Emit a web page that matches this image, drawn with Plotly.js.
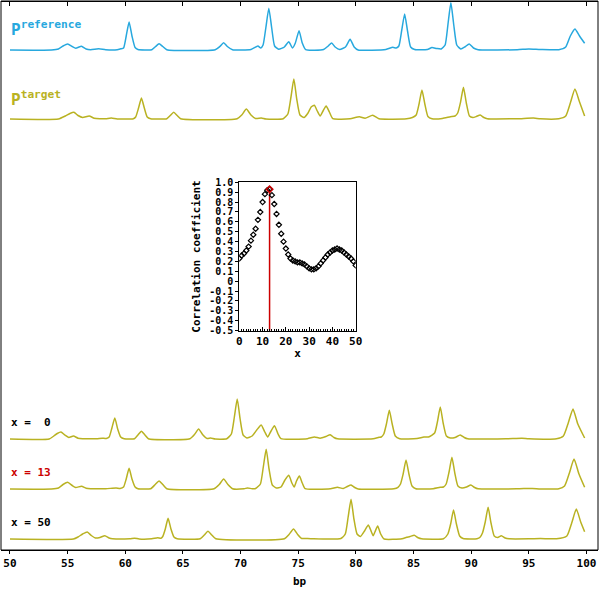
<!DOCTYPE html>
<html>
<head>
<meta charset="utf-8">
<script src="https://cdn.plot.ly/plotly-3.0.1.min.js"></script>
<style>
  body { margin: 0; background: #fff; }
  #plot { width: 600px; height: 600px; }
</style>
</head>
<body>
<div id="plot"></div>
<script>
// bp axis ticks
const bpTicks = [50, 55, 60, 65, 70, 75, 80, 85, 90, 95, 100];

// profiles as [bp, signal] points
const refProfile = [
  [50,0],[53.6,0],[54.2,1],[54.6,4],[55.0,6],[55.4,3.5],[55.7,1.8],[56.2,3.7],[56.6,1],[57.0,0.3],[57.7,1.2],[58.3,0.3],[59.3,0.3],[59.6,1.2],
  [59.85,2],[60.08,14],[60.33,28],[60.58,14],[60.85,2.5],[61.1,0.5],
  [62.3,0.3],[62.63,3.5],[62.93,6.3],[63.25,3.5],[63.6,0.3],
  [67.8,0.3],[68.2,3.5],[68.53,7.3],[68.85,3.5],[69.3,0.3],
  [70.9,0.5],[71.5,4],[71.75,2],
  [71.95,5],[72.2,23],[72.45,41.7],[72.7,22],[72.95,4],[73.3,0.8],
  [73.8,3],[74.18,8.3],[74.5,2],
  [74.75,7],[75.07,19.3],[75.35,7],[75.65,0.3],
  [77.2,0.5],[77.6,4],[77.9,7],[78.2,3],[78.6,0.5],[79.1,3],[79.5,10.7],[79.85,3],[80.2,0],
  [82.6,0.5],[83.2,2.7],[83.5,2],
  [83.73,4],[83.98,20],[84.23,36],[84.48,19],[84.75,3],[85.1,0.5],
  [86.2,0.5],[86.6,2.5],[87.0,1.5],[87.4,1],
  [87.74,5],[87.99,26],[88.24,47.3],[88.49,25],[88.75,5],[89.1,1],
  [89.45,3],[89.83,6],[90.2,2],[90.6,0.3],
  [94.0,0.3],[95.0,1],[96.0,0.5],[97.6,0.3],[98.2,3],[98.6,14],[99.0,21],[99.4,14],[99.84,6.7]
];

const targetProfile = [
  [50,0],[54.2,0],[54.8,3],[55.2,5.5],[55.54,6.7],[55.9,3.5],[56.3,1.5],[56.87,3],[57.3,0.8],[57.8,0.3],[58.3,0.3],[58.8,1],[59.3,0],
  [60.7,0.3],[60.9,2],[61.15,11],[61.4,21],[61.65,11],[61.9,2],[62.2,0.3],
  [63.6,0.3],[63.9,3.5],[64.2,6.7],[64.5,3.5],[64.8,0.3],
  [69.7,0.3],[70.1,4],[70.5,10],[70.9,4],[71.3,0.5],[71.8,1],[72.2,0],
  [73.7,0.3],[74.1,5],[74.37,22],[74.62,40],[74.87,20],[75.15,4],[75.5,1.5],
  [75.85,6],[76.12,12],[76.4,13.7],[76.65,8],[76.9,3],[77.15,8],[77.42,13],[77.7,7],[78.0,0.3],
  [79.5,0.3],[80.3,2.3],[80.8,0.8],[81.46,3.7],[82.0,0.2],
  [84.4,0.2],[84.9,1.5],
  [85.23,4],[85.48,15],[85.73,29],[85.98,15],[86.25,2.5],[86.6,0.3],
  [87.5,0.5],[88.2,2.3],[88.6,3],
  [88.83,6],[89.08,17],[89.33,31.7],[89.58,16],[89.85,3],[90.15,1.5],[90.45,2.5],[90.78,4],[91.1,1.5],[91.4,0.3],
  [94.0,0.3],[95.4,1],[96.0,0.2],[97.6,0.3],[98.2,3],[98.6,16],[99.0,30],[99.4,17],[99.84,3]
];

const shift0Profile = [
  [50,0],[53.4,0],[53.8,3],[54.1,5.5],[54.42,7],[54.75,4],[55.1,1.5],[55.5,3],[55.9,0.8],[56.3,0.3],[57.5,0.3],[58.0,0.8],[58.35,0.5],
  [58.6,2],[58.84,11],[59.09,21],[59.34,10],[59.6,2],[59.9,0.3],
  [60.8,0.3],[61.1,4],[61.4,7.7],[61.7,4],[62.0,0.3],
  [65.6,0.3],[66.0,4.5],[66.36,10],[66.7,4.5],[67.1,0.5],[67.4,1],[67.8,0],
  [68.8,0.3],[69.2,5],[69.46,22],[69.71,40],[69.96,20],[70.22,4],[70.55,1],
  [71.0,3],[71.4,9],[71.79,14],[72.1,7],[72.35,2],[72.6,7],[72.94,13.3],[73.25,5],[73.5,0.3],
  [75.8,0.3],[76.4,2],[76.9,0.8],[77.4,2.5],[77.77,4.3],[78.1,1.5],[78.4,0.2],
  [81.5,0.2],[82.0,1.7],[82.2,2],
  [82.42,5],[82.65,15],[82.9,28.7],[83.15,15],[83.42,3],[83.8,0.3],
  [85.3,0.5],[85.9,2],[86.3,2],
  [86.83,6],[87.07,17],[87.32,32],[87.57,16],[87.85,3],[88.2,1],[88.6,1.5],[89.05,4],[89.4,1.5],[89.7,0.2],
  [93.0,0.2],[94.4,0.8],[95.0,0.2],[97.4,0.2],[98.0,3],[98.42,16],[98.83,30],[99.25,15],[99.84,1]
];

const shift13Profile = [
  [50,0],[53.6,0],[54.2,1],[54.6,4.5],[55.0,6.7],[55.4,3.5],[55.7,1.5],[56.2,2.7],[56.6,0.8],[57.0,0.3],[58.3,0.3],[59.2,1],[59.55,0.5],
  [59.85,2],[60.08,10],[60.33,20.7],[60.58,10],[60.85,2],[61.1,0.3],
  [62.2,0.3],[62.6,4.5],[62.93,8],[63.25,4.5],[63.6,0.3],
  [67.7,0.3],[68.15,4.5],[68.53,10],[68.9,4.5],[69.3,0.3],[70.3,0.3],[70.6,1],[71.0,0.3],
  [71.3,0.5],[71.72,5],[71.97,22],[72.22,39.7],[72.47,20],[72.75,4],[73.1,1],
  [73.5,2],[73.85,9],[74.18,13.7],[74.45,6],[74.65,2],[74.85,8],[75.1,13],[75.35,6],[75.6,0.3],
  [77.8,0.3],[78.4,1.7],[78.9,0.5],[79.25,2.5],[79.58,4],[79.9,1.5],[80.2,0],
  [83.3,0.3],[83.65,1.7],
  [83.87,5],[84.1,15],[84.35,29],[84.6,15],[84.87,3],[85.2,0.3],
  [86.7,0.3],[87.3,1.7],[87.6,2],
  [87.83,5],[88.08,17],[88.33,31.7],[88.58,16],[88.85,3],[89.2,1],[89.6,2],[89.97,4],[90.3,1.5],[90.6,0.2],
  [94.0,0.2],[95.3,0.6],[96.0,0.1],[97.6,0.2],[98.1,3],[98.52,16],[98.92,30],[99.35,15],[99.84,1.7]
];

const shift50Profile = [
  [50,0],[55.5,0],[55.9,2],[56.3,5],[56.7,7],[57.05,3.5],[57.4,1],[57.8,1.5],[58.23,3.3],[58.6,1],[58.9,0.3],[60.4,0.3],[60.8,0.8],[61.2,0],[62.3,0.2],[62.8,1.2],[63.1,0.8],
  [63.25,2.5],[63.47,10],[63.71,20.7],[63.96,10],[64.22,2],[64.5,0.3],
  [66.5,0.3],[66.85,4],[67.17,7.7],[67.5,4],[67.85,0.3],
  [73.8,0.3],[74.2,4.5],[74.59,10],[74.95,4.5],[75.3,0.5],[75.6,0.5],[76.1,0.3],
  [78.7,0.5],[79.08,5],[79.33,22],[79.58,39.7],[79.83,20],[80.1,5],[80.4,2.5],
  [80.75,8],[81.08,14],[81.35,7],[81.5,3.3],[81.65,7],[81.89,13],[82.15,5],[82.45,0],
  [84.0,0.3],[84.4,1.7],[84.7,2.5],[85.06,3.7],[85.4,1.2],[85.7,0.2],
  [87.6,0.3],[87.98,5],[88.22,15],[88.47,29],[88.72,15],[89.0,3],[89.3,0.5],
  [90.5,0.3],[90.75,1.5],
  [90.98,6],[91.22,17],[91.47,31.7],[91.72,16],[92.0,3],[92.3,1.5],[92.62,3.3],[92.95,1],[93.3,0.2],
  [95.0,0.2],[96.0,0.5],[97.4,0.2],[98.3,3],[98.72,16],[99.12,30],[99.5,17],[99.84,7.3]
];

// correlation vs shift x
const shifts = [0,1,2,3,4,5,6,7,8,9,10,11,12,13,14,15,16,17,18,19,20,21,22,23,24,25,
  26,27,28,29,30,31,32,33,34,35,36,37,38,39,40,41,42,43,44,45,46,47,48,49,50];
const corr = [0.23,0.26,0.28,0.31,0.35,0.41,0.47,0.53,0.62,0.70,0.80,0.88,0.92,0.93,0.87,0.78,
  0.68,0.57,0.48,0.40,0.33,0.27,0.23,0.21,0.20,0.19,0.19,0.18,0.17,0.15,0.13,0.12,0.12,0.13,
  0.15,0.18,0.21,0.24,0.27,0.29,0.31,0.32,0.33,0.32,0.31,0.29,0.27,0.25,0.23,0.20,0.16];
const corrTicks = [1.0,0.9,0.8,0.7,0.6,0.5,0.4,0.3,0.2,0.1,0,-0.1,-0.2,-0.3,-0.4,-0.5];
const corrTickText = ['1.0','0.9','0.8','0.7','0.6','0.5','0.4','0.3','0.2','0.1','0',
  '-0.1','-0.2','-0.3','-0.4','-0.5'];
const shiftTicks = [0, 10, 20, 30, 40, 50];

const shownShifts = [0, 13, 50];

const blue = '#27a8de';
const olive = '#b9b222';
const red = '#cc0000';
const mono = 'DejaVu Sans Mono';

// pixel rows of each profile's baseline (plot area runs y=1..550)
const baselines = [50, 119, 439, 489, 539];
function band(yb) {
  const lo = (550 - yb - 2) / 549;
  return [lo, lo + 50 / 549];
}

const best = corr.indexOf(Math.max(...corr));

const line = (pts, xa, ya, color) => ({
  x: pts.map(p => p[0]), y: pts.map(p => p[1]),
  xaxis: xa, yaxis: ya, mode: 'lines', hoverinfo: 'skip',
  line: {color: color, width: 1.5, shape: 'spline', smoothing: 0.5}
});

const data = [
  line(refProfile, 'x2', 'y', blue),
  line(targetProfile, 'x', 'y2', olive),
  line(shift0Profile, 'x', 'y3', olive),
  line(shift13Profile, 'x', 'y4', olive),
  line(shift50Profile, 'x', 'y5', olive),
  {
    x: [shifts[best], shifts[best]], y: [-0.5, corr[best]],
    xaxis: 'x3', yaxis: 'y6', mode: 'lines',
    line: {color: red, width: 1.5}
  },
  {
    x: shifts, y: corr, xaxis: 'x3', yaxis: 'y6', mode: 'markers',
    marker: {symbol: 'diamond-open', size: 4, color: '#000', line: {width: 1.2}}
  },
  {
    x: [shifts[best]], y: [corr[best]], xaxis: 'x3', yaxis: 'y6', mode: 'markers',
    marker: {symbol: 'diamond-open', size: 5, color: red, line: {width: 1.5}}
  }
];

const tickFont = {family: mono, size: 11, weight: 'bold', color: '#000'};
const smallFont = {family: mono, size: 10, weight: 'bold', color: '#000'};
const hidden = {visible: false, range: [-2, 48], fixedrange: true};

const layout = {
  width: 600, height: 600,
  margin: {l: 1, r: 2, t: 1, b: 50},
  paper_bgcolor: '#fff', plot_bgcolor: '#fff',
  showlegend: false,
  xaxis: {
    range: [49.22, 101.0], anchor: 'free', position: 0,
    tickvals: bpTicks, ticks: 'outside', ticklen: 3, tickcolor: '#000',
    showline: true, linecolor: '#000', linewidth: 1,
    showgrid: false, zeroline: false, tickfont: tickFont,
    title: {text: 'bp', font: tickFont, standoff: 8}
  },
  xaxis2: {
    range: [49.22, 101.0], overlaying: 'x', side: 'top', anchor: 'free', position: 1,
    tickvals: bpTicks, ticks: 'inside', ticklen: 4, tickcolor: '#000',
    showticklabels: false, showline: true, linecolor: '#000',
    showgrid: false, zeroline: false
  },
  yaxis: Object.assign({domain: band(baselines[0]), anchor: 'x2'}, hidden),
  yaxis2: Object.assign({domain: band(baselines[1])}, hidden),
  yaxis3: Object.assign({domain: band(baselines[2])}, hidden),
  yaxis4: Object.assign({domain: band(baselines[3])}, hidden),
  yaxis5: Object.assign({domain: band(baselines[4])}, hidden),
  xaxis3: {
    domain: [0.3992, 0.5941], anchor: 'y6', range: [0, 50],
    tickvals: shiftTicks, ticks: 'inside', ticklen: 4, tickcolor: '#000',
    minor: {dtick: 1, tick0: 0, ticks: 'inside', ticklen: 2, tickcolor: '#000', showgrid: false},
    showline: true, mirror: true, linecolor: '#000', linewidth: 1,
    showgrid: false, zeroline: false, tickfont: tickFont,
    title: {text: 'x', font: tickFont, standoff: 2}
  },
  yaxis6: {
    domain: [0.3995, 0.6698], anchor: 'x3', range: [-0.5, 1.0],
    tickvals: corrTicks, ticktext: corrTickText, ticks: 'outside', ticklen: 3, tickcolor: '#000',
    showline: true, mirror: true, linecolor: '#000', linewidth: 1,
    showgrid: false, zeroline: false, tickfont: smallFont,
    title: {text: 'Correlation coefficient', font: tickFont, standoff: 6}
  },
  shapes: [{
    type: 'rect', xref: 'paper', yref: 'paper', x0: 0, x1: 1, y0: 0, y1: 1,
    line: {color: '#000', width: 1}
  }],
  annotations: [
    {
      xref: 'paper', yref: 'y', x: 0.013, y: 22, xanchor: 'left', yanchor: 'middle',
      text: 'P<sup>reference</sup>', showarrow: false,
      font: {family: mono, size: 16, weight: 'bold', color: blue}
    },
    {
      xref: 'paper', yref: 'y2', x: 0.013, y: 21, xanchor: 'left', yanchor: 'middle',
      text: 'P<sup>target</sup>', showarrow: false,
      font: {family: mono, size: 16, weight: 'bold', color: olive}
    }
  ].concat(shownShifts.map((s, i) => ({
    xref: 'paper', yref: 'y' + (i + 3), x: 0.014, y: 16.5, xanchor: 'left', yanchor: 'middle',
    text: 'x = ' + (s < 10 ? '\u00a0' + s : s), showarrow: false,
    font: {family: mono, size: 11, weight: 'bold', color: s === shifts[best] ? red : '#000'}
  })))
};

Plotly.newPlot('plot', data, layout, {displayModeBar: false, staticPlot: true});
</script>
</body>
</html>
